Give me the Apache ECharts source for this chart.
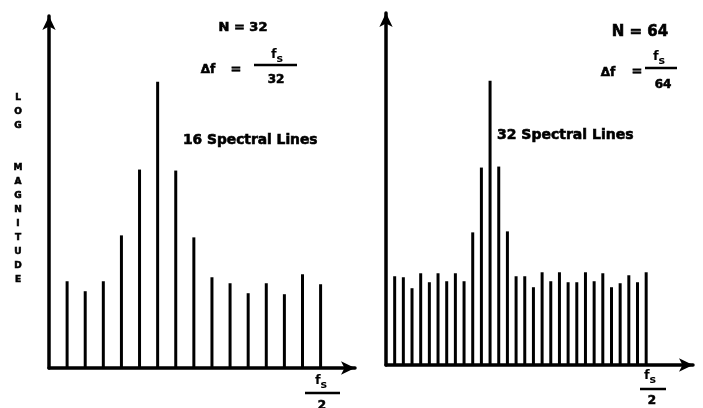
<!DOCTYPE html>
<html><head><meta charset="utf-8">
<script src="https://cdn.jsdelivr.net/npm/echarts@6/dist/echarts.min.js"></script>
<style>html,body{margin:0;padding:0;background:#fff;}#c{width:703px;height:408px;}</style>
</head><body><div id="c"></div>
<script>
// Spectral line indices (line 0 / DC lies on the vertical axis)
const leftIdx = [1,2,3,4,5,6,7,8,9,10,11,12,13,14,15];
const leftMag = [87,77,87,133,199,287,198,131,91,85,75,85,74,94,84];
const rightIdx = [1,2,3,4,5,6,7,8,9,10,11,12,13,14,15,16,17,18,19,20,21,22,23,24,25,26,27,28,29,30];
const rightMag = [89,88,77,92,83,92,84,92,84,133,198,285,199,134,89,89,78,93,84,93,83,83,93,84,92,78,82,90,83,93];
const yMax = 353;
const leftXMax = 16.9, rightXMax = 35.4;

const FONT = '"DejaVu Sans", "Liberation Sans", Arial, sans-serif';
const txt = (x, y, s, size, align) => ({
  type: 'text', x: x, y: y,
  style: { text: s, font: 'bold ' + size + 'px ' + FONT, fill: '#000', align: align || 'center', verticalAlign: 'middle',
           stroke: '#000', lineWidth: 0.6 }
});
const fs = (x, y, size) => ({
  type: 'text', x: x, y: y,
  style: { text: '{a|f}{b|s}', align: 'center', verticalAlign: 'middle', fill: '#000',
    rich: { a: { font: 'bold ' + size + 'px ' + FONT, fill: '#000' },
            b: { font: 'bold ' + (size - 2) + 'px ' + FONT, fill: '#000', padding: [size * 0.6, 0, 0, 0] } } }
});
const hline = (x1, x2, y) => ({ type: 'line', shape: { x1: x1, y1: y, x2: x2, y2: y }, style: { stroke: '#000', lineWidth: 2.5 } });

const axisCommon = {
  axisLine: { show: true, symbol: ['none', 'arrow'], symbolSize: [10, 14], lineStyle: { color: '#000', width: 3.5 } },
  axisTick: { show: false }, axisLabel: { show: false }, splitLine: { show: false }
};

const chart = echarts.init(document.getElementById('c'), null, { renderer: 'canvas' });
chart.setOption({
  backgroundColor: '#fff',
  animation: false,
  grid: [
    { left: 49, top: 16, width: 306, height: 352 },
    { left: 386, top: 13, width: 307, height: 352 }
  ],
  xAxis: [
    Object.assign({ type: 'value', gridIndex: 0, min: 0, max: leftXMax }, axisCommon),
    Object.assign({ type: 'value', gridIndex: 1, min: 0, max: rightXMax }, axisCommon)
  ],
  yAxis: [
    Object.assign({ type: 'value', gridIndex: 0, min: 0, max: yMax }, axisCommon),
    Object.assign({ type: 'value', gridIndex: 1, min: 0, max: yMax }, axisCommon)
  ],
  series: [
    { type: 'bar', xAxisIndex: 0, yAxisIndex: 0, barWidth: 3, itemStyle: { color: '#000' },
      data: leftIdx.map((x, i) => [x, leftMag[i]]) },
    { type: 'bar', xAxisIndex: 1, yAxisIndex: 1, barWidth: 3, itemStyle: { color: '#000' },
      data: rightIdx.map((x, i) => [x, rightMag[i]]) }
  ],
  graphic: [
    // Y axis title (stacked letters)
    { type: 'text', x: 18, y: 91, style: { text: 'L\nO\nG\n\n\nM\nA\nG\nN\nI\nT\nU\nD\nE', font: 'bold 9px ' + FONT, fill: '#000', stroke: '#000', lineWidth: 0.6, align: 'center', lineHeight: 14 } },
    // Left annotations
    txt(243, 28, 'N = 32', 13),
    txt(208, 70, 'Δf', 12),
    txt(236, 70, '=', 13),
    fs(277, 55, 13),
    hline(254, 297, 65),
    txt(276, 80, '32', 12),
    txt(183, 140, '16 Spectral Lines', 13.8, 'left'),
    // Right annotations
    txt(640, 32, 'N = 64', 15),
    txt(608, 73, 'Δf', 12),
    txt(637, 72, '=', 13),
    fs(659, 57, 13),
    hline(645, 677, 68),
    txt(663, 85, '64', 12),
    txt(497, 135, '32 Spectral Lines', 14, 'left'),
    // x-axis end labels f_s / 2
    fs(321, 381, 13),
    hline(305, 340, 393),
    txt(322, 406, '2', 12),
    fs(650, 376, 13),
    hline(640, 666, 389),
    txt(652, 401, '2', 12)
  ]
});
</script></body></html>
